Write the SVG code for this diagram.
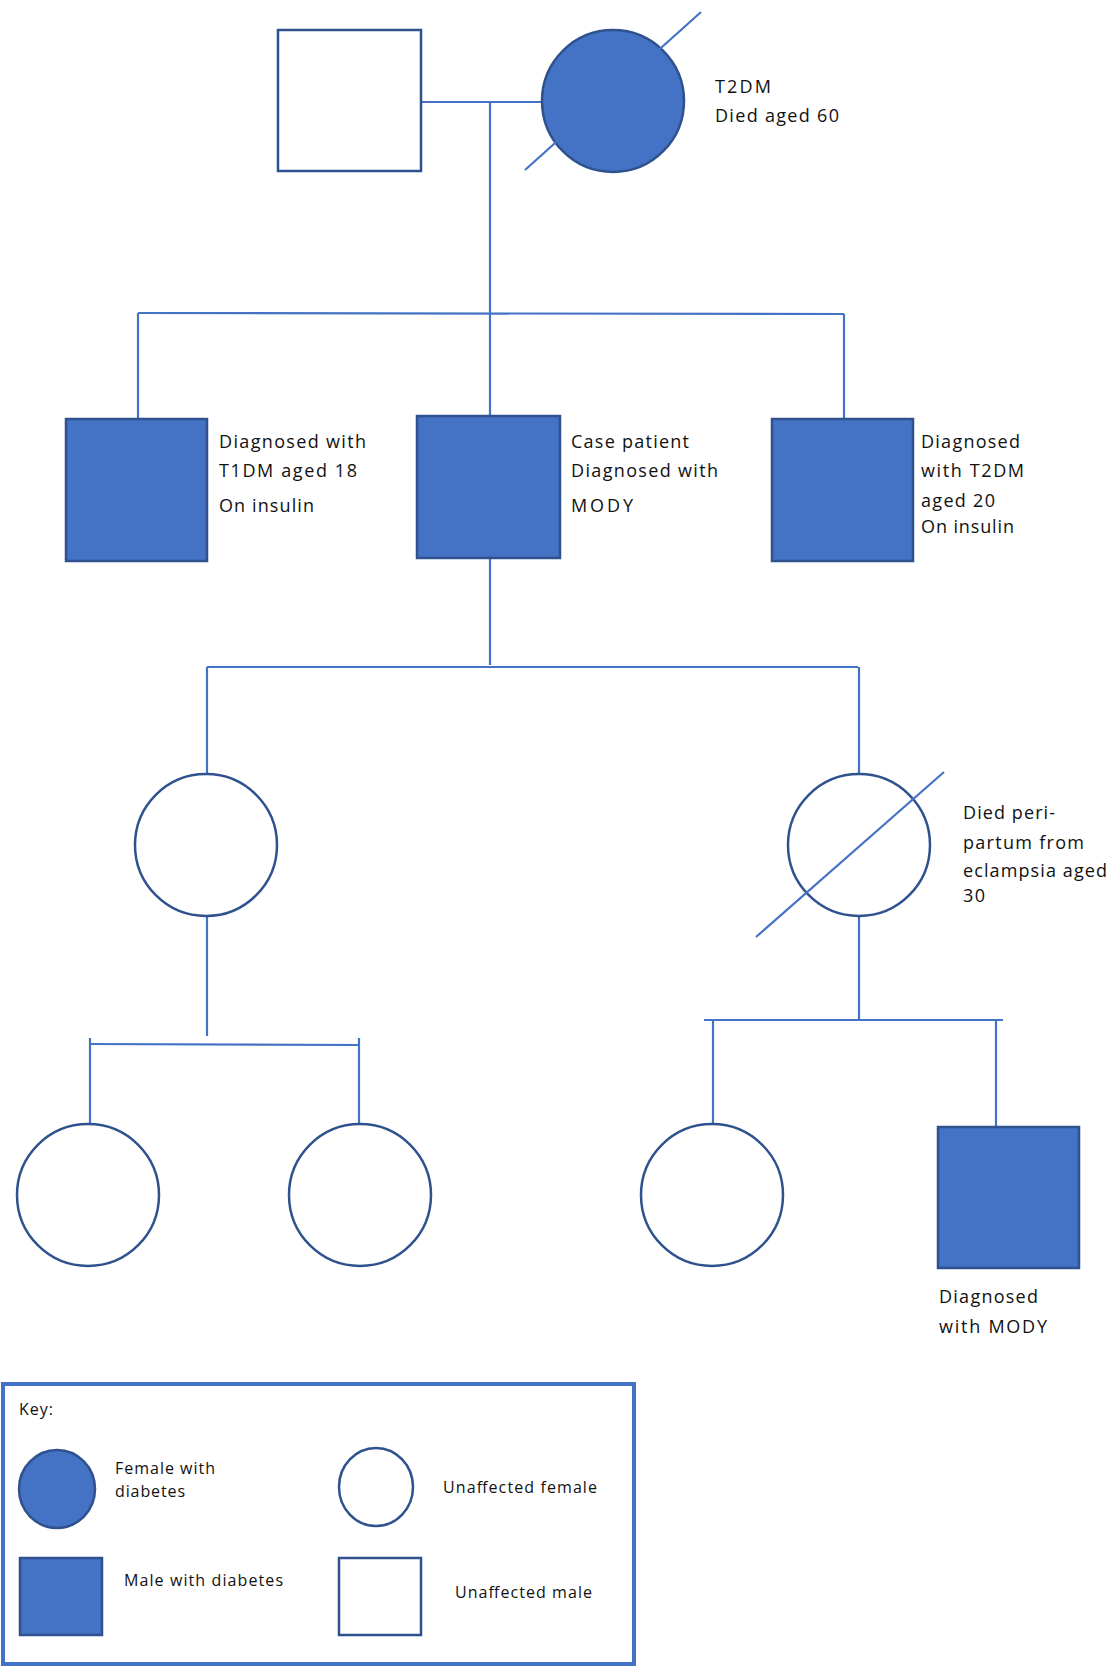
<svg xmlns="http://www.w3.org/2000/svg" width="1112" height="1666" viewBox="0 0 1112 1666">
<style>
.bg{fill:#ffffff}
.aff{fill:#4472C4;stroke:#2F528F;stroke-width:2.5}
.un{fill:#ffffff;stroke:#2F528F;stroke-width:2.5}
.ln{stroke:#4472C4;stroke-width:2.2;fill:none}
.t{font-family:"Open Sans","Liberation Sans",sans-serif;font-size:18px;fill:#111111}
.k{font-family:"Open Sans","Liberation Sans",sans-serif;font-size:16px;fill:#111111}
.box{fill:none;stroke:#4472C4;stroke-width:4}
</style>
<rect class="bg" x="0" y="0" width="1112" height="1666"/>
<g id="connectors">
<line class="ln" x1="421" y1="102" x2="542" y2="102"/>
<line class="ln" x1="490" y1="102" x2="490" y2="313"/>
<line class="ln" x1="138" y1="313" x2="844" y2="314"/>
<line class="ln" x1="138" y1="313" x2="138" y2="419"/>
<line class="ln" x1="490" y1="313" x2="490" y2="416"/>
<line class="ln" x1="844" y1="314" x2="844" y2="419"/>
<line class="ln" x1="490" y1="558" x2="490" y2="665"/>
<line class="ln" x1="207" y1="667" x2="858" y2="667"/>
<line class="ln" x1="207" y1="667" x2="207" y2="775"/>
<line class="ln" x1="859" y1="667" x2="859" y2="775"/>
<line class="ln" x1="207" y1="916" x2="207" y2="1036"/>
<line class="ln" x1="90" y1="1044" x2="359" y2="1045"/>
<line class="ln" x1="90" y1="1038" x2="90" y2="1126"/>
<line class="ln" x1="359" y1="1038" x2="359" y2="1124"/>
<line class="ln" x1="859" y1="916" x2="859" y2="1020"/>
<line class="ln" x1="704" y1="1020" x2="1003" y2="1020"/>
<line class="ln" x1="713" y1="1020" x2="713" y2="1124"/>
<line class="ln" x1="996" y1="1020" x2="996" y2="1127"/>
</g>
<g id="grandfather">
<rect class="un" x="278" y="30" width="143" height="141"/>
</g>
<g id="grandmother">
<circle class="aff" cx="613" cy="101" r="71"/>
<line class="ln" x1="525" y1="170" x2="701" y2="12"/>
<text class="t" x="715" y="93" textLength="56">T2DM</text>
<text class="t" x="715" y="122" textLength="124">Died aged 60</text>
</g>
<g id="uncle-t1dm">
<rect class="aff" x="66" y="419" width="141" height="142"/>
<text class="t" x="219" y="448" textLength="147">Diagnosed with</text>
<text class="t" x="219" y="477" textLength="138">T1DM aged 18</text>
<text class="t" x="219" y="512" textLength="95">On insulin</text>
</g>
<g id="case-patient">
<rect class="aff" x="417" y="416" width="143" height="142"/>
<text class="t" x="571" y="448" textLength="118">Case patient</text>
<text class="t" x="571" y="477" textLength="147">Diagnosed with</text>
<text class="t" x="571" y="512" textLength="62">MODY</text>
</g>
<g id="uncle-t2dm">
<rect class="aff" x="772" y="419" width="141" height="142"/>
<text class="t" x="921" y="448" textLength="99">Diagnosed</text>
<text class="t" x="921" y="477" textLength="103">with T2DM</text>
<text class="t" x="921" y="507" textLength="74">aged 20</text>
<text class="t" x="921" y="533" textLength="93">On insulin</text>
</g>
<g id="daughter-1">
<circle class="un" cx="206" cy="845" r="71"/>
</g>
<g id="daughter-2">
<circle class="un" cx="859" cy="845" r="71"/>
<line class="ln" x1="756" y1="937" x2="944" y2="772"/>
<text class="t" x="963" y="819" textLength="92">Died peri-</text>
<text class="t" x="963" y="849" textLength="121">partum from</text>
<text class="t" x="963" y="877" textLength="144">eclampsia aged</text>
<text class="t" x="963" y="902" textLength="22">30</text>
</g>
<g id="grandchild-1">
<circle class="un" cx="88" cy="1195" r="71"/>
</g>
<g id="grandchild-2">
<circle class="un" cx="360" cy="1195" r="71"/>
</g>
<g id="grandchild-3">
<circle class="un" cx="712" cy="1195" r="71"/>
</g>
<g id="grandchild-4">
<rect class="aff" x="938" y="1127" width="141" height="141"/>
<text class="t" x="939" y="1303" textLength="99">Diagnosed</text>
<text class="t" x="939" y="1333" textLength="108">with MODY</text>
</g>
<g id="key">
<rect class="box" x="3" y="1384" width="631" height="280"/>
<text class="k" x="19" y="1415" textLength="34">Key:</text>
<ellipse class="aff" cx="57" cy="1489" rx="38" ry="39"/>
<text class="k" x="115" y="1474" textLength="100">Female with</text>
<text class="k" x="115" y="1497" textLength="70">diabetes</text>
<ellipse class="un" cx="376" cy="1487" rx="37" ry="39"/>
<text class="k" x="443" y="1493" textLength="154">Unaffected female</text>
<rect class="aff" x="20" y="1558" width="82" height="77"/>
<text class="k" x="124" y="1586" textLength="159">Male with diabetes</text>
<rect class="un" x="339" y="1558" width="82" height="77"/>
<text class="k" x="455" y="1598" textLength="137">Unaffected male</text>
</g>
</svg>
